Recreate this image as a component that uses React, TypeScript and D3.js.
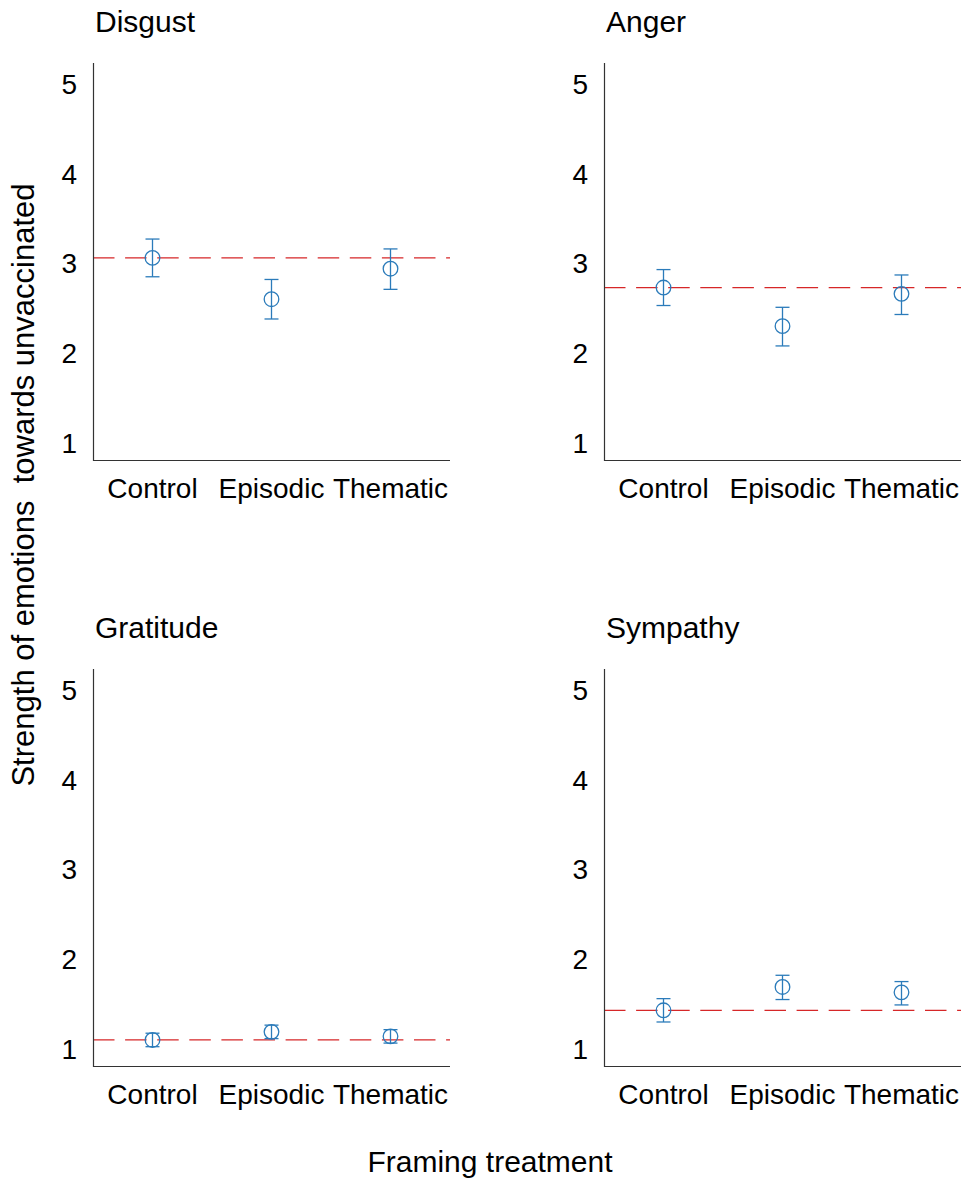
import React from 'react';
import * as d3 from 'd3';

const categories = ['Control', 'Episodic', 'Thematic'];
const panelTitles = ['Disgust', 'Anger', 'Gratitude', 'Sympathy'];
const yTicks = [1, 2, 3, 4, 5];

const disgustMean = [3.06, 2.6, 2.94];
const disgustLow = [2.85, 2.38, 2.71];
const disgustHigh = [3.27, 2.82, 3.16];
const disgustRef = 3.06;

const angerMean = [2.73, 2.3, 2.66];
const angerLow = [2.53, 2.08, 2.43];
const angerHigh = [2.93, 2.51, 2.87];
const angerRef = 2.73;

const gratitudeMean = [1.1, 1.19, 1.14];
const gratitudeLow = [1.025, 1.115, 1.065];
const gratitudeHigh = [1.175, 1.265, 1.215];
const gratitudeRef = 1.1;

const sympathyMean = [1.43, 1.69, 1.63];
const sympathyLow = [1.3, 1.55, 1.49];
const sympathyHigh = [1.56, 1.82, 1.75];
const sympathyRef = 1.43;

const W = 966;
const H = 1179;
const plotW = 357;
const plotH = 397;
const FONT = '"Liberation Sans", Arial, Helvetica, sans-serif';
const BLUE = '#2b7bba';
const RED = '#d62728';
const AXIS = '#333';

const panels = [
  { title: panelTitles[0], mean: disgustMean, low: disgustLow, high: disgustHigh, ref: disgustRef, x0: 93, y0: 63 },
  { title: panelTitles[1], mean: angerMean, low: angerLow, high: angerHigh, ref: angerRef, x0: 604, y0: 63 },
  { title: panelTitles[2], mean: gratitudeMean, low: gratitudeLow, high: gratitudeHigh, ref: gratitudeRef, x0: 93, y0: 669 },
  { title: panelTitles[3], mean: sympathyMean, low: sympathyLow, high: sympathyHigh, ref: sympathyRef, x0: 604, y0: 669 },
];

const x = d3.scalePoint<string>().domain(categories).range([0, plotW]).padding(0.5);
const y = d3.scaleLinear().domain([0.81, 5.23]).range([plotH, 0]);

const Panel = ({ p }: { p: typeof panels[number] }) => {
  const cap = 7;
  return (
    <g transform={`translate(${p.x0},${p.y0})`}>
      <text x={2} y={-31} fontSize={30} fontFamily={FONT} fill="#000">{p.title}</text>
      {yTicks.map(t => (
        <text key={t} x={-16} y={y(t)} dy="0.36em" textAnchor="end" fontSize={28} fontFamily={FONT} fill="#000">{t}</text>
      ))}
      {categories.map(c => (
        <text key={c} x={x(c)} y={plotH + 38} textAnchor="middle" fontSize={28} fontFamily={FONT} fill="#000">{c}</text>
      ))}
      <line x1={0} x2={plotW} y1={y(p.ref)} y2={y(p.ref)} stroke={RED} strokeWidth={1.3} strokeDasharray="21.5,10.6" />
      {categories.map((c, i) => {
        const cx = x(c) as number;
        return (
          <g key={c} stroke={BLUE} strokeWidth={1.3} fill="none">
            <line x1={cx} x2={cx} y1={y(p.low[i])} y2={y(p.high[i])} />
            <line x1={cx - cap} x2={cx + cap} y1={y(p.low[i])} y2={y(p.low[i])} />
            <line x1={cx - cap} x2={cx + cap} y1={y(p.high[i])} y2={y(p.high[i])} />
            <circle cx={cx} cy={y(p.mean[i])} r={7.3} />
          </g>
        );
      })}
      <path d={`M0.5,0V${plotH + 0.5}H${plotW}`} fill="none" stroke={AXIS} strokeWidth={1.2} />
    </g>
  );
};

export default function App() {
  return (
    <svg width={W} height={H} style={{ position: 'absolute', left: 0, top: 0, background: '#fff' }}>
      <rect width={W} height={H} fill="#fff" />
      {panels.map(p => <Panel key={p.title} p={p} />)}
      <text transform="translate(34,485) rotate(-90)" textAnchor="middle" fontSize={31} fontFamily={FONT} fill="#000" style={{ whiteSpace: 'pre' }}>
        {'Strength of emotions  towards unvaccinated'}
      </text>
      <text x={490} y={1172} textAnchor="middle" fontSize={30} fontFamily={FONT} fill="#000">Framing treatment</text>
    </svg>
  );
}
